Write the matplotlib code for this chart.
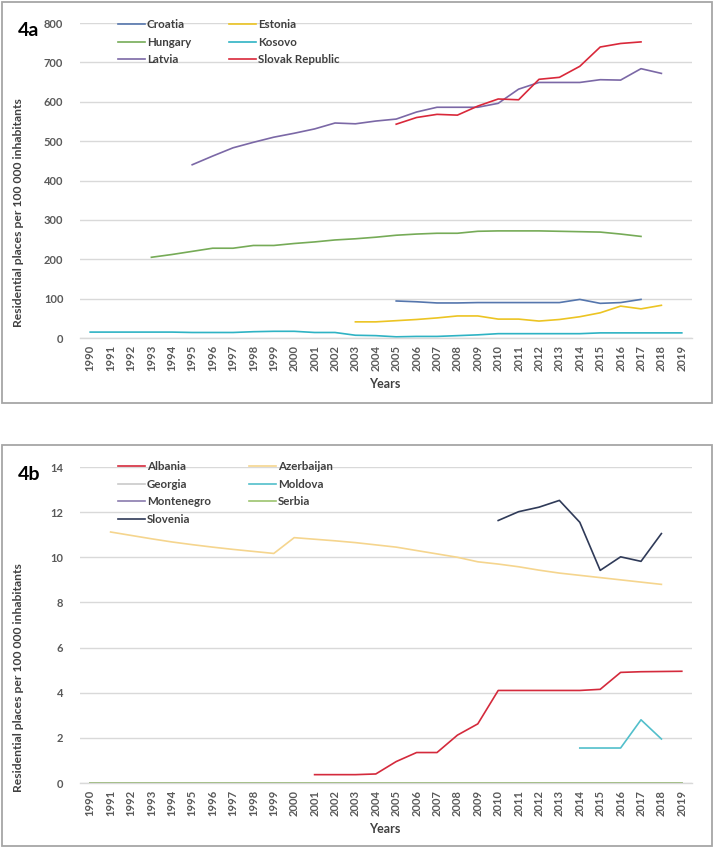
import matplotlib
matplotlib.use("Agg")
import matplotlib.pyplot as plt
from matplotlib.patches import Rectangle
import numpy as np

plt.rcParams['font.family'] = ['Lato', 'DejaVu Sans']

years = list(range(1990, 2020))

# ---- Panel 4a ----
croatia_years = list(range(2005, 2018))
croatia = [94, 92, 89, 89, 90, 90, 90, 90, 90, 98, 88, 90, 98]
estonia_years = list(range(2003, 2019))
estonia = [41, 41, 44, 47, 51, 56, 56, 48, 48, 43, 47, 54, 64, 81, 74, 83]
hungary_years = list(range(1993, 2018))
hungary = [205, 212, 220, 228, 228, 235, 235, 240, 244, 249, 252, 256, 261, 264,
           266, 266, 271, 272, 272, 272, 271, 270, 269, 264, 258]
kosovo_years = list(range(1990, 2020))
kosovo = [15, 15, 15, 15, 15, 14, 14, 14, 16, 17, 17, 14, 14, 7, 6, 3, 4, 4, 6, 8,
          11, 11, 11, 11, 11, 13, 13, 13, 13, 13]
latvia_years = list(range(1995, 2019))
latvia = [440, 462, 483, 497, 510, 520, 531, 546, 544, 551, 556, 574, 586, 586, 586,
          596, 632, 649, 649, 649, 656, 655, 684, 672]
slovak_years = list(range(2005, 2018))
slovak = [543, 560, 568, 566, 589, 607, 605, 657, 662, 690, 739, 748, 752]

# ---- Panel 4b ----
albania_years = list(range(2001, 2020))
albania = [0.37, 0.37, 0.37, 0.40, 0.95, 1.35, 1.35, 2.12, 2.62, 4.10, 4.10, 4.10,
           4.10, 4.10, 4.15, 4.90, 4.93, 4.94, 4.95]
azerbaijan_years = list(range(1991, 2019))
azerbaijan = [11.12, 10.97, 10.82, 10.68, 10.56, 10.45, 10.35, 10.26, 10.17, 10.87,
              10.80, 10.73, 10.65, 10.55, 10.45, 10.30, 10.15, 10.00, 9.80, 9.70,
              9.58, 9.43, 9.30, 9.20, 9.10, 9.00, 8.90, 8.80]
georgia_years = years
georgia = [0] * 30
moldova_years = list(range(2014, 2019))
moldova = [1.55, 1.55, 1.55, 2.80, 1.95]
montenegro_years = years
montenegro = [0] * 30
serbia_years = years
serbia = [0] * 30
slovenia_years = list(range(2010, 2019))
slovenia = [11.63, 12.02, 12.22, 12.52, 11.55, 9.42, 10.02, 9.82, 11.05]

W, H = 714, 848
fig = plt.figure(figsize=(W / 100, H / 100), dpi=100)

def fx(px):
    return px / W

def fy(py):
    return 1 - py / H

# frames
for (x0, y0, x1, y1) in [(2, 2, 712, 403), (2, 445, 712, 846)]:
    fig.patches.append(Rectangle((fx(x0), fy(y1)), fx(x1 - x0), (y1 - y0) / H,
                                 transform=fig.transFigure, fill=False,
                                 edgecolor='#a6a6a6', linewidth=1.3))

tick_color = '#595959'
grid_color = '#d9d9d9'
text_color = '#404040'
FS_TICK = 8.0
FS_LEG = 8.3

def style_axes(ax, ymax, ystep):
    ax.set_xlim(1989.5, 2019.5)
    ax.set_ylim(0, ymax)
    ax.set_yticks(np.arange(0, ymax + 0.001, ystep))
    ax.set_xticks(years)
    ax.set_xticklabels([str(y) for y in years], rotation=90, fontsize=FS_TICK,
                       fontweight='bold', color=tick_color)
    for lab in ax.get_yticklabels():
        lab.set_fontsize(FS_TICK)
        lab.set_fontweight('bold')
        lab.set_color(tick_color)
    ax.grid(axis='y', color=grid_color, linewidth=1.0)
    ax.set_axisbelow(True)
    for s in ['top', 'right', 'left']:
        ax.spines[s].set_visible(False)
    ax.spines['bottom'].set_color(grid_color)
    ax.spines['bottom'].set_linewidth(1.0)
    ax.tick_params(axis='both', length=0)
    ax.tick_params(axis='y', pad=12)
    ax.tick_params(axis='x', pad=5)

leg_kw = dict(ncol=2, frameon=False, loc='upper left',
              prop={'weight': 'bold', 'size': FS_LEG}, labelcolor=text_color,
              handlelength=2.35, handletextpad=0.15, columnspacing=3.3,
              labelspacing=0.58, borderaxespad=0, borderpad=0)

# ---- axes 4a ----
ax1 = fig.add_axes([fx(80), fy(338), fx(612), (338 - 23) / H])
lw = 1.2
h_cro, = ax1.plot(croatia_years, croatia, color='#5576ad', lw=lw, label='Croatia')
h_est, = ax1.plot(estonia_years, estonia, color='#ecc423', lw=lw, label='Estonia')
h_hun, = ax1.plot(hungary_years, hungary, color='#76ab57', lw=lw, label='Hungary')
h_kos, = ax1.plot(kosovo_years, kosovo, color='#2fb3c4', lw=lw, label='Kosovo')
h_lat, = ax1.plot(latvia_years, latvia, color='#7b68a6', lw=lw, label='Latvia')
h_slo, = ax1.plot(slovak_years, slovak, color='#d9283a', lw=lw, label='Slovak Republic')
style_axes(ax1, 800, 100)
ax1.legend([h_cro, h_hun, h_lat, h_est, h_kos, h_slo],
           ['Croatia', 'Hungary', 'Latvia', 'Estonia', 'Kosovo', 'Slovak Republic'],
           bbox_to_anchor=(fx(118), fy(19)), bbox_transform=fig.transFigure, **leg_kw)

# ---- axes 4b ----
ax2 = fig.add_axes([fx(80), fy(783), fx(612), (783 - 467) / H])
h_geo, = ax2.plot(georgia_years, georgia, color='#c9c9c9', lw=lw)
h_mon, = ax2.plot(montenegro_years, montenegro, color='#8a7cae', lw=lw)
h_ser, = ax2.plot(serbia_years, serbia, color='#9cc46e', lw=lw)
h_alb, = ax2.plot(albania_years, albania, color='#d42a3c', lw=lw)
h_aze, = ax2.plot(azerbaijan_years, azerbaijan, color='#f5d58e', lw=lw)
h_mol, = ax2.plot(moldova_years, moldova, color='#52bfcb', lw=lw)
h_sln, = ax2.plot(slovenia_years, slovenia, color='#2f3a58', lw=lw)
style_axes(ax2, 14, 2)
ax2.legend([h_alb, h_geo, h_mon, h_sln, h_aze, h_mol, h_ser],
           ['Albania', 'Georgia', 'Montenegro', 'Slovenia', 'Azerbaijan', 'Moldova', 'Serbia'],
           bbox_to_anchor=(fx(118), fy(461)), bbox_transform=fig.transFigure, **leg_kw)

# panel labels and axis titles
fig.text(fx(18), fy(30), '4a', fontsize=14, fontweight='bold', color='black', va='center')
fig.text(fx(18), fy(474), '4b', fontsize=14, fontweight='bold', color='black', va='center')
ylab = 'Residential places per 100 000 inhabitants'
fig.text(fx(19), fy(213), ylab, rotation=90, fontsize=8.7, fontweight='bold',
         color=text_color, ha='center', va='center')
fig.text(fx(19), fy(678), ylab, rotation=90, fontsize=8.7, fontweight='bold',
         color=text_color, ha='center', va='center')
fig.text(fx(385), fy(384), 'Years', fontsize=9, fontweight='bold',
         color=text_color, ha='center', va='center')
fig.text(fx(385), fy(829), 'Years', fontsize=9, fontweight='bold',
         color=text_color, ha='center', va='center')

fig.savefig('out.png', dpi=100)
